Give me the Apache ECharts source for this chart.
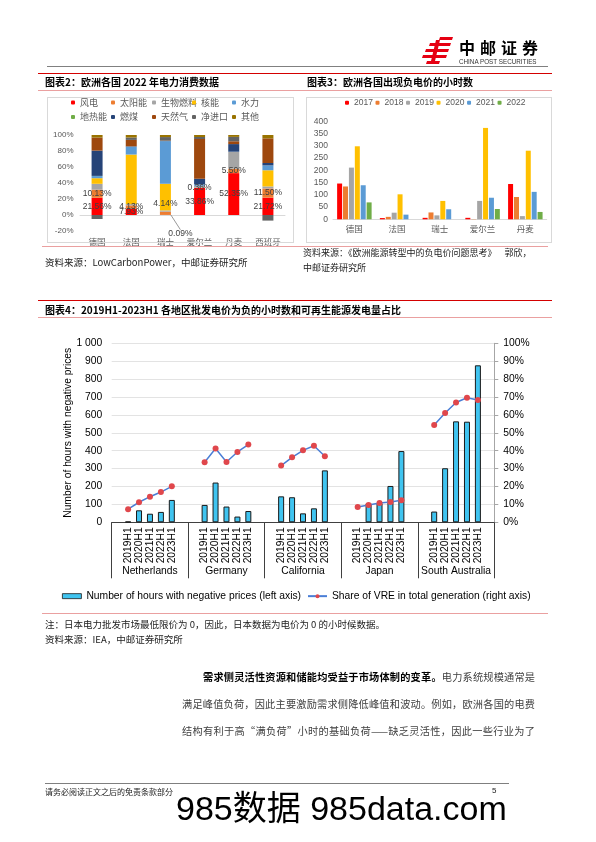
<!DOCTYPE html>
<html><head><meta charset="utf-8">
<script src="https://cdn.jsdelivr.net/npm/echarts@6/dist/echarts.min.js"></script>
<style>
html,body{margin:0;padding:0;background:#fff;}
#page{position:relative;width:596px;height:842px;overflow:hidden;font-family:"Noto Sans CJK SC",sans-serif;color:#222;}
#chart{position:absolute;left:0;top:0;width:596px;height:842px;}
.t{position:absolute;white-space:nowrap;}
.ln{position:absolute;height:0;}
.box{position:absolute;border:1px solid #d9d9d9;box-sizing:border-box;}
</style></head>
<body>
<div id="page">
<div id="chart"></div>

<!-- header -->
<svg style="position:absolute;left:422px;top:37px" width="31" height="27" viewBox="0 0 31 27">
<g fill="#e60012">
<polygon points="18,0 31,0 30,3 17,3"/>
<polygon points="8,6 29,6 28,9 7,9"/>
<polygon points="4,12 27,12 26,15 3,15"/>
<polygon points="1,18 25,18 24,21 0,21"/>
<polygon points="5,24 18,24 17,27 4,27"/>
<polygon points="14,3 18,3 13,24 9,24"/>
</g>
</svg>
<div class="t" style="left:459px;top:39px;font-size:16px;line-height:17px;font-weight:bold;letter-spacing:5px;color:#000;">中邮证券</div>
<div class="t" style="left:459px;top:58px;font-size:6.3px;line-height:7px;font-family:'Liberation Sans',Arial,sans-serif;color:#333;">CHINA POST SECURITIES</div>
<div class="ln" style="left:47px;top:66px;width:501px;border-top:1px solid #808080;"></div>

<!-- chart 2 / 3 headers -->
<div class="ln" style="left:38px;top:73px;width:514px;border-top:1.5px solid #d40000;"></div>
<div class="t" style="left:45px;top:76px;font-size:10px;line-height:12px;font-weight:bold;color:#000;">图表2：欧洲各国 2022 年电力消费数据</div>
<div class="t" style="left:307px;top:76px;font-size:10px;line-height:12px;font-weight:bold;color:#000;">图表3：欧洲各国出现负电价的小时数</div>
<div class="ln" style="left:38px;top:90px;width:514px;border-top:1px solid #eaa0a0;"></div>
<div class="box" style="left:47px;top:97px;width:247px;height:146px;"></div>
<div class="box" style="left:306px;top:97px;width:246px;height:146px;"></div>
<div class="ln" style="left:42px;top:246px;width:506px;border-top:1px solid #eaa0a0;"></div>
<div class="t" style="left:45px;top:256px;font-size:9.5px;line-height:12px;color:#222;">资料来源：LowCarbonPower，中邮证券研究所</div>
<div class="t" style="left:303px;top:247px;font-size:9px;line-height:12px;color:#222;">资料来源：《欧洲能源转型中的负电价问题思考》&nbsp;&nbsp;&nbsp;&nbsp;郭欣，</div>
<div class="t" style="left:303px;top:262px;font-size:9px;line-height:12px;color:#222;">中邮证券研究所</div>

<!-- chart 4 header -->
<div class="ln" style="left:38px;top:300px;width:514px;border-top:1.5px solid #d40000;"></div>
<div class="t" style="left:45px;top:304px;font-size:10px;line-height:12px;font-weight:bold;color:#000;">图表4：2019H1-2023H1 各地区批发电价为负的小时数和可再生能源发电量占比</div>
<div class="ln" style="left:38px;top:317px;width:514px;border-top:1px solid #eaa0a0;"></div>
<div class="ln" style="left:42px;top:613px;width:506px;border-top:1px solid #eaa0a0;"></div>
<div class="t" style="left:45px;top:618px;font-size:9.5px;line-height:12px;color:#222;">注：日本电力批发市场最低限价为 0，因此，日本数据为电价为 0 的小时候数据。</div>
<div class="t" style="left:45px;top:633px;font-size:9.5px;line-height:12px;color:#222;">资料来源：IEA，中邮证券研究所</div>

<!-- body text -->
<div class="t" style="left:203px;top:670px;width:332px;font-size:10.2px;line-height:13px;text-align:justify;text-align-last:justify;color:#404040;"><b style="color:#000;">需求侧灵活性资源和储能均受益于市场体制的变革。</b>电力系统规模通常是</div>
<div class="t" style="left:182px;top:697px;width:353px;font-size:10.2px;line-height:13px;text-align:justify;text-align-last:justify;color:#404040;">满足峰值负荷，因此主要激励需求侧降低峰值和波动。例如，欧洲各国的电费</div>
<div class="t" style="left:182px;top:724px;width:353px;font-size:10.2px;line-height:13px;text-align:justify;text-align-last:justify;color:#404040;">结构有利于高“满负荷”小时的基础负荷——缺乏灵活性，因此一些行业为了</div>

<!-- footer -->
<div class="ln" style="left:45px;top:783px;width:464px;border-top:1.5px solid #7f7f7f;"></div>
<div class="t" style="left:45px;top:787px;font-size:8px;line-height:10px;color:#222;">请务必阅读正文之后的免责条款部分</div>
<div class="t" style="left:492px;top:786px;font-size:8px;line-height:10px;color:#222;font-family:'Liberation Sans',Arial,sans-serif;">5</div>
<div class="t" style="left:176px;top:790px;font-size:34px;line-height:36px;color:#000;font-family:'Liberation Sans',Arial,'Noto Sans CJK SC',sans-serif;">985数据 985data.com</div>
</div>

<script>
// ---------- Chart 2 data: 2022 electricity mix (%) ----------
const c2Countries = ['德国', '法国', '瑞士', '爱尔兰', '丹麦', '西班牙'];
const c2Sources = ['风电', '太阳能', '生物燃料', '核能', '水力', '地热能', '燃煤', '天然气', '净进口', '其他'];
const c2Wind    = [21.56, 7.93, 0.09, 33.86, 52.35, 21.72];
const c2Solar   = [10.13, 4.13, 4.14, 0.36, 5.50, 11.50];
const c2Bio     = [7.3, 1.5, 1.5, 2.3, 21.0, 2.5];
const c2Nuclear = [7.0, 62.0, 33.3, 0, 0, 20.2];
const c2Hydro   = [2.7, 9.8, 53.4, 1.8, 0.3, 6.1];
const c2Geo     = [0.2, 0, 0, 0, 0, 0];
const c2Coal    = [31.6, 0.5, 0, 7.0, 9.5, 3.0];
const c2Gas     = [16.3, 8.0, 0.5, 49.7, 3.5, 30.8];
const c2Import  = [-5.0, 3.0, 4.5, 2.5, 5.5, -7.0];
const c2Other   = [3.4, 3.2, 2.6, 2.5, 2.65, 4.2];
const c2YTicks  = [-20, 100, 20];

// ---------- Chart 3 data: hours of negative prices ----------
const c3Countries = ['德国', '法国', '瑞士', '爱尔兰', '丹麦'];
const c3Years = ['2017', '2018', '2019', '2020', '2021', '2022'];
const c3Y2017 = [146, 5, 6, 6, 144];
const c3Y2018 = [134, 10, 28, 1, 91];
const c3Y2019 = [211, 27, 16, 75, 13];
const c3Y2020 = [298, 102, 75, 373, 280];
const c3Y2021 = [139, 19, 41, 88, 112];
const c3Y2022 = [69, 0, 0, 42, 30];
const c3YTicks = [0, 400, 50];

// ---------- Chart 4 data ----------
const c4Regions = ['Netherlands', 'Germany', 'California', 'Japan', 'South Australia'];
const c4Periods = ['2019H1', '2020H1', '2021H1', '2022H1', '2023H1'];
const c4HoursNetherlands = [4, 67, 48, 58, 125];
const c4HoursGermany     = [97, 222, 88, 32, 63];
const c4HoursCalifornia  = [145, 140, 50, 78, 290];
const c4HoursJapan       = [null, 106, 107, 203, 398];
const c4HoursSouthAus    = [60, 302, 564, 562, 877];
const c4VreNetherlands = [7.3, 11.2, 14.3, 16.9, 20.1];
const c4VreGermany     = [33.5, 41.2, 33.7, 39.3, 43.4];
const c4VreCalifornia  = [31.7, 36.3, 40.2, 42.8, 36.9];
const c4VreJapan       = [8.6, 9.7, 10.8, 11.4, 12.3];
const c4VreSouthAus    = [54.4, 61.1, 66.9, 69.6, 68.3];
const c4LeftTicks  = [0, 1000, 100];
const c4RightTicks = [0, 100, 10];
const c4BarName  = 'Number of hours with negative prices (left axis)';
const c4LineName = 'Share of VRE in total generation (right axis)';

// ---------- build ----------
const LAT = '"Liberation Sans", Arial, "Noto Sans CJK SC", sans-serif';
const CJK = '"Noto Sans CJK SC", "Liberation Sans", sans-serif';
const c2Colors = ['#FF0000', '#ED7D31', '#A5A5A5', '#FFC000', '#5B9BD5', '#70AD47', '#264478', '#9E480E', '#636363', '#997300'];
const c2Data = [c2Wind, c2Solar, c2Bio, c2Nuclear, c2Hydro, c2Geo, c2Coal, c2Gas, c2Import, c2Other];
const c3Colors = ['#FF0000', '#ED7D31', '#A5A5A5', '#FFC000', '#5B9BD5', '#70AD47'];
const c3Data = [c3Y2017, c3Y2018, c3Y2019, c3Y2020, c3Y2021, c3Y2022];

const hourGroups = [c4HoursNetherlands, c4HoursGermany, c4HoursCalifornia, c4HoursJapan, c4HoursSouthAus];
const vreGroups = [c4VreNetherlands, c4VreGermany, c4VreCalifornia, c4VreJapan, c4VreSouthAus];
const c4Cats = [], c4Bars = [], c4Line = [];
c4Regions.forEach((r, gi) => {
  c4Cats.push('', ...c4Periods, '');
  c4Bars.push(null, ...hourGroups[gi], null);
  c4Line.push(null, ...vreGroups[gi], null);
});

const series = [];
c2Sources.forEach((name, i) => {
  const s = {
    name, type: 'bar', stack: 'mix', xAxisIndex: 0, yAxisIndex: 0,
    barWidth: 11, itemStyle: { color: c2Colors[i] },
    data: c2Data[i].slice()
  };
  if (i === 0 || i === 1) {
    s.label = { show: true, position: 'inside', formatter: p => (typeof p.value === 'number' ? p.value : p.data.value).toFixed(2) + '%',
      fontSize: 8.5, color: '#404040', fontFamily: LAT };
  }
  if (i === 0) {
    s.data = c2Data[i].map((v, k) => k === 2 ? { value: v, labelLine: { show: true } } : v);
    s.labelLine = { show: false, lineStyle: { color: '#7f7f7f', width: 0.8 } };
    s.labelLayout = p => p.dataIndex === 2 ? { dx: 15, dy: 19 } : {};
  }
  if (i === 1) {
    s.labelLayout = p => p.dataIndex === 2 ? { dy: -10 } : {};
  }
  series.push(s);
});
c3Years.forEach((name, i) => {
  series.push({ name, type: 'bar', xAxisIndex: 1, yAxisIndex: 1, barWidth: 5, barGap: '18%',
    itemStyle: { color: c3Colors[i] }, data: c3Data[i] });
});
series.push({ name: c4BarName, type: 'bar', xAxisIndex: 2, yAxisIndex: 2, barWidth: 6,
  itemStyle: { color: '#40c4f0', borderColor: '#1a1a1a', borderWidth: 1 }, data: c4Bars });
series.push({ name: c4LineName, type: 'line', xAxisIndex: 2, yAxisIndex: 3, symbol: 'circle', symbolSize: 6,
  lineStyle: { color: '#4a7ed6', width: 1.5 }, itemStyle: { color: '#e0474c', borderWidth: 0 }, data: c4Line });

// legends for chart 2 (one per item, two rows)
const legends = [];
const colX = [71, 111, 152, 192, 232];
c2Sources.forEach((name, i) => {
  legends.push({ data: [name], left: colX[i % 5], top: i < 5 ? 98 : 112.5, padding: 0,
    itemWidth: 4, itemHeight: 4, textStyle: { fontSize: 9, color: '#595959', fontFamily: CJK } });
});
legends.push({ data: c3Years, left: 345, top: 98.5, padding: 0, itemWidth: 4, itemHeight: 4, itemGap: 2.6,
  textStyle: { fontSize: 8.5, color: '#595959', fontFamily: LAT } });
legends.push({ data: [{ name: c4BarName, icon: 'rect', itemStyle: { borderWidth: 0.8 } }, { name: c4LineName }],
  left: 62, top: 591, padding: 0, itemWidth: 19, itemHeight: 5, itemGap: 6,
  textStyle: { fontSize: 10.3, color: '#000', fontFamily: LAT } });

const option = {
  animation: false,
  grid: [
    { left: 80, top: 135, width: 205, height: 96 },
    { left: 333, top: 121.3, width: 213.7, height: 98 },
    { left: 111.7, top: 343.3, width: 382.6, height: 179 }
  ],
  legend: legends,
  xAxis: [
    { type: 'category', gridIndex: 0, data: c2Countries,
      axisLine: { lineStyle: { color: '#d9d9d9', width: 1 } }, axisTick: { show: false },
      axisLabel: { interval: 0, fontSize: 8.5, color: '#595959', margin: 7, fontFamily: CJK } },
    { type: 'category', gridIndex: 1, data: c3Countries,
      axisLine: { lineStyle: { color: '#d9d9d9', width: 1 } }, axisTick: { show: false },
      axisLabel: { interval: 0, fontSize: 8.5, color: '#595959', margin: 5.5, fontFamily: CJK } },
    { type: 'category', gridIndex: 2, data: c4Cats, position: 'bottom',
      axisLine: { lineStyle: { color: '#404040', width: 1 } }, axisTick: { show: false },
      axisLabel: { interval: 0, rotate: 90, fontSize: 10.3, color: '#000', margin: 5, fontFamily: LAT } },
    { type: 'category', gridIndex: 2, data: c4Regions, position: 'bottom',
      axisLine: { show: false },
      axisTick: { show: true, length: 56, interval: 0, lineStyle: { color: '#404040', width: 1 } },
      axisLabel: { interval: 0, fontSize: 10.3, color: '#000', margin: 44, fontFamily: LAT } }
  ],
  yAxis: [
    { type: 'value', gridIndex: 0, min: c2YTicks[0], max: c2YTicks[1], interval: c2YTicks[2],
      axisLine: { show: false }, axisTick: { show: false }, splitLine: { show: false },
      axisLabel: { formatter: '{value}%', fontSize: 8, color: '#595959', margin: 6.5, fontFamily: LAT } },
    { type: 'value', gridIndex: 1, min: c3YTicks[0], max: c3YTicks[1], interval: c3YTicks[2],
      axisLine: { show: false }, axisTick: { show: false }, splitLine: { show: false },
      axisLabel: { fontSize: 8.5, color: '#595959', margin: 5, fontFamily: LAT } },
    { type: 'value', gridIndex: 2, min: c4LeftTicks[0], max: c4LeftTicks[1], interval: c4LeftTicks[2],
      name: 'Number of hours with negative prices', nameLocation: 'middle', nameGap: 38, nameMoveOverlap: false,
      nameTextStyle: { fontSize: 10.3, color: '#000', fontFamily: LAT },
      axisLine: { show: false }, axisTick: { show: false },
      splitLine: { lineStyle: { color: '#e3e3e3', width: 1 } },
      axisLabel: { formatter: v => String(v).replace(/\B(?=(\d{3})+(?!\d))/g, ' '), fontSize: 10.3, color: '#000', margin: 9.4, fontFamily: LAT } },
    { type: 'value', gridIndex: 2, position: 'right', min: c4RightTicks[0], max: c4RightTicks[1], interval: c4RightTicks[2],
      axisLine: { show: true, lineStyle: { color: '#a6a6a6', width: 1 } },
      axisTick: { show: true, length: 4, lineStyle: { color: '#a6a6a6' } },
      splitLine: { show: false },
      axisLabel: { formatter: '{value}%', fontSize: 10.3, color: '#000', margin: 9, fontFamily: LAT } }
  ],
  series
};

const chart = echarts.init(document.getElementById('chart'), null, { renderer: 'canvas' });
chart.setOption(option);
</script>
</body></html>
